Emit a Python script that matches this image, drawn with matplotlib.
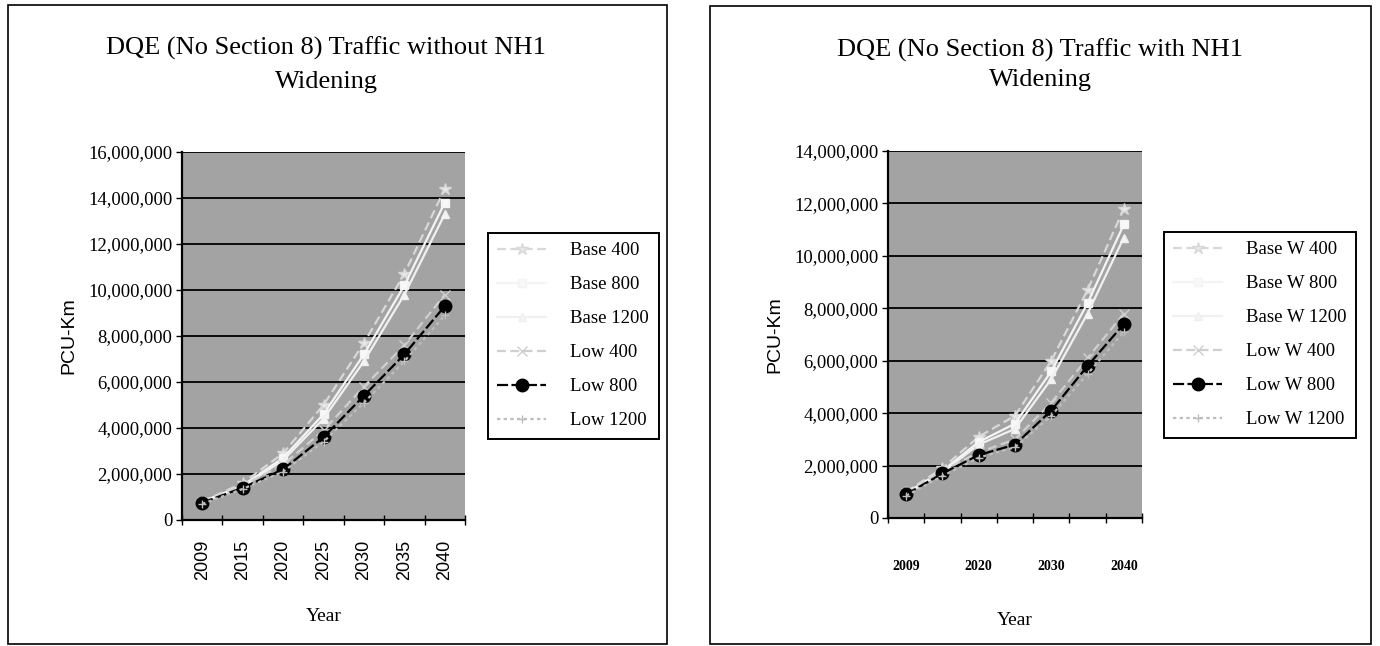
import matplotlib
matplotlib.use("Agg")
import matplotlib.pyplot as plt
from matplotlib.patches import Rectangle
from matplotlib.ticker import FuncFormatter, MultipleLocator

# categories (years) shared by both charts
years = ['2009', '2015', '2020', '2025', '2030', '2035', '2040']

# left chart: without NH1 widening (PCU-Km)
base_400 = [800000, 1600000, 2900000, 5000000, 7700000, 10700000, 14400000]
base_800 = [800000, 1500000, 2700000, 4600000, 7200000, 10200000, 13800000]
base_1200 = [750000, 1450000, 2600000, 4400000, 6900000, 9800000, 13300000]
low_400 = [800000, 1500000, 2400000, 3900000, 5800000, 7600000, 9800000]
low_800 = [750000, 1400000, 2200000, 3600000, 5400000, 7200000, 9300000]
low_1200 = [700000, 1350000, 2100000, 3400000, 5100000, 6900000, 8900000]

# right chart: with NH1 widening (PCU-Km)
base_w_400 = [1000000, 1900000, 3100000, 3900000, 6000000, 8700000, 11800000]
base_w_800 = [950000, 1800000, 2900000, 3600000, 5600000, 8200000, 11200000]
base_w_1200 = [900000, 1750000, 2800000, 3400000, 5300000, 7800000, 10700000]
low_w_400 = [950000, 1800000, 2500000, 3000000, 4400000, 6100000, 7800000]
low_w_800 = [900000, 1700000, 2400000, 2800000, 4100000, 5800000, 7400000]
low_w_1200 = [850000, 1600000, 2300000, 2700000, 3900000, 5500000, 7100000]

SERIF = 'Liberation Serif'
SANS = 'Liberation Sans'

# grey-scan look of the series: (color, linestyle, marker, markersize, mfc)
styles = [
    ('#d8d8d8', (0, (4, 2)), '*', 9, '#e8e8e8'),
    ('#f4f4f4', '-', 's', 6, '#f8f8f8'),
    ('#f0f0f0', '-', '^', 6, '#f4f4f4'),
    ('#cfcfcf', (0, (4, 2)), 'x', 7, '#cfcfcf'),
    ('#000000', (0, (5, 1.5)), 'o', 9, '#000000'),
    ('#bdbdbd', (0, (1.5, 1.5)), '+', 6, '#bdbdbd'),
]


def draw_chart(fig, rect, series, labels, ymax, title, legend_box, rotate):
    ax = fig.add_axes(rect)
    ax.set_facecolor('#a3a3a3')
    x = range(len(years))
    for vals, lab, st in zip(series, labels, styles):
        color, ls, mk, ms, mfc = st
        ax.plot(x, vals, color=color, linestyle=ls, linewidth=1.6, marker=mk,
                markersize=ms, markerfacecolor=mfc, markeredgecolor=color,
                label=lab, zorder=3)
    ax.set_xlim(-0.5, len(years) - 0.5)
    ax.set_ylim(0, ymax)
    ax.yaxis.set_major_locator(MultipleLocator(2000000))
    ax.yaxis.set_major_formatter(FuncFormatter(lambda v, p: f'{v:,.0f}'))
    ax.grid(axis='y', color='black', linewidth=1.3, zorder=1)
    for s in ['top', 'right']:
        ax.spines[s].set_visible(False)
    for s in ['left', 'bottom']:
        ax.spines[s].set_linewidth(1.6)
    ax.tick_params(axis='y', direction='out', length=4, width=1,
                   labelsize=13.5, pad=3)
    for t in ax.get_yticklabels():
        t.set_fontfamily(SERIF)
    ax.set_xticks([i - 0.5 for i in range(len(years) + 1)], minor=True)
    ax.tick_params(axis='x', which='minor', direction='inout', length=7, width=1)
    if rotate:
        ax.set_xticks(list(x))
        ax.set_xticklabels(years, rotation=90, fontfamily=SANS, fontsize=13)
        ax.tick_params(axis='x', which='major', length=0, pad=14)
        ax.set_xlabel('Year', fontfamily=SERIF, fontsize=14, labelpad=20)
    else:
        ax.set_xticks(list(x)[::2])
        ax.set_xticklabels(years[::2], fontfamily=SERIF, fontsize=10,
                           fontweight='bold')
        ax.tick_params(axis='x', which='major', length=0, pad=30)
        ax.set_xlabel('Year', fontfamily=SERIF, fontsize=14, labelpad=28)
    ax.set_ylabel('PCU-Km', fontfamily=SANS, fontsize=14, labelpad=8)

    fig.text(title[1], title[2], title[0], ha='center', va='top',
             fontfamily=SERIF, fontsize=19, linespacing=title[3])

    lg = ax.legend(loc='upper left', bbox_to_anchor=legend_box,
                   bbox_transform=fig.transFigure, frameon=True,
                   fancybox=False, edgecolor='black', framealpha=1,
                   prop={'family': SERIF, 'size': 13.5}, handlelength=2.6,
                   handletextpad=1.3, labelspacing=0.9, borderpad=0.5,
                   borderaxespad=0)
    lg.get_frame().set_linewidth(1.4)
    return ax


fig = plt.figure(figsize=(13.8, 6.46), dpi=100)

# outer chart borders
fig.patches.append(Rectangle((8 / 1380, 1 - 644 / 646), 659 / 1380, 639 / 646,
                             transform=fig.transFigure, fill=False,
                             edgecolor='black', linewidth=1.2))
fig.patches.append(Rectangle((710 / 1380, 1 - 644 / 646), 661 / 1380, 638 / 646,
                             transform=fig.transFigure, fill=False,
                             edgecolor='black', linewidth=1.2))

draw_chart(fig, [182 / 1380, 1 - 520 / 646, 283 / 1380, 368 / 646],
           [base_400, base_800, base_1200, low_400, low_800, low_1200],
           ['Base 400', 'Base 800', 'Base 1200', 'Low 400', 'Low 800', 'Low 1200'],
           16000000,
           ('DQE (No Section 8) Traffic without NH1\nWidening', 326 / 1380,
            1 - 37 / 646, 1.65),
           (488 / 1380, 1 - 233 / 646), True)

draw_chart(fig, [888 / 1380, 1 - 518 / 646, 254 / 1380, 367 / 646],
           [base_w_400, base_w_800, base_w_1200, low_w_400, low_w_800, low_w_1200],
           ['Base W 400', 'Base W 800', 'Base W 1200', 'Low W 400', 'Low W 800',
            'Low W 1200'],
           14000000,
           ('DQE (No Section 8) Traffic with NH1\nWidening', 1040 / 1380,
            1 - 39 / 646, 1.4),
           (1164 / 1380, 1 - 232 / 646), False)

fig.savefig('out.png', dpi=100, facecolor='white')
